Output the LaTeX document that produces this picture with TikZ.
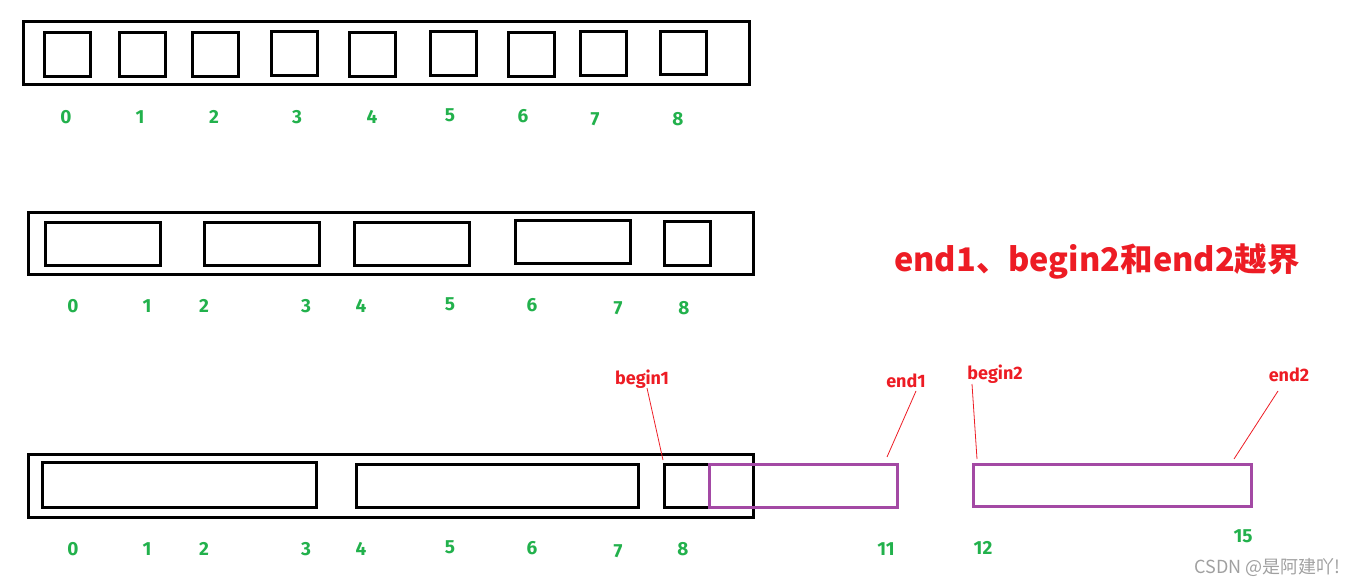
\documentclass[tikz,border=0pt]{standalone}
\usepackage{fontspec}
\setmainfont{Fira Sans}
\newfontfamily\cjk{Noto Sans CJK SC}
\definecolor{pgreen}{RGB}{34,177,76}
\definecolor{pred}{RGB}{237,28,36}
\definecolor{ppurple}{RGB}{163,73,164}
\definecolor{wmgray}{RGB}{160,160,160}
\newcommand{\bx}[6][arr]{\node[#1, minimum width={(#5-#3)*1pt}, minimum height={(#6-#4)*1pt}] (#2) at ({(#3+#5)/2},{(#4+#6)/2}) {};}
\tikzset{
  arr/.style={draw=black, line width=3pt, inner sep=0pt, outer sep=0pt, rectangle},
  over/.style={draw=ppurple, line width=3pt, inner sep=0pt, outer sep=0pt, rectangle},
  idx/.style={text=pgreen, font=\fontsize{19}{19}\selectfont\bfseries, inner sep=0pt},
  ptr/.style={text=pred, font=\fontsize{18}{18}\selectfont\bfseries, inner sep=0pt},
  lead/.style={draw=pred, line width=0.8pt},
}
\begin{document}
\begin{tikzpicture}[x=1pt,y=-1pt]
\useasboundingbox (0,0) rectangle (1355,586);
% ---------- row 1 ----------
\bx{r1}{23}{22}{749}{85}
\bx{r1b0}{44}{33}{90}{77}
\bx{r1b1}{119}{33}{165}{77}
\bx{r1b2}{192}{33}{238}{77}
\bx{r1b3}{271}{32}{317}{76}
\bx{r1b4}{349}{33}{395}{77}
\bx{r1b5}{430}{32}{476}{76}
\bx{r1b6}{508}{33}{554}{77}
\bx{r1b7}{580}{32}{626}{76}
\bx{r1b8}{660}{32}{706}{75}
\node[idx] (r1l0) at (66,117) {0};
\node[idx] (r1l1) at (140,117) {1};
\node[idx] (r1l2) at (214,117) {2};
\node[idx] (r1l3) at (297,117) {3};
\node[idx] (r1l4) at (372,117) {4};
\node[idx] (r1l5) at (450,115) {5};
\node[idx] (r1l6) at (523,116) {6};
\node[idx] (r1l7) at (595,119) {7};
\node[idx] (r1l8) at (678,119) {8};
% ---------- row 2 ----------
\bx{r2}{28}{212}{753}{274}
\bx{r2b0}{45}{222}{160}{265}
\bx{r2b1}{204}{222}{319}{265}
\bx{r2b2}{354}{222}{469}{265}
\bx{r2b3}{515}{220}{630}{263}
\bx{r2b4}{664}{221}{710}{265}
\node[idx] (r2l0) at (73,306) {0};
\node[idx] (r2l1) at (147,306) {1};
\node[idx] (r2l2) at (204,306) {2};
\node[idx] (r2l3) at (306,306) {3};
\node[idx] (r2l4) at (361,306) {4};
\node[idx] (r2l5) at (450,304) {5};
\node[idx] (r2l6) at (532,305) {6};
\node[idx] (r2l7) at (618,308) {7};
\node[idx] (r2l8) at (684,308) {8};
% ---------- title ----------
\node[text=pred, font=\cjk\fontsize{32.5}{32.5}\selectfont\bfseries, inner sep=0pt] (title) at (1097,261) {end1、begin2和end2越界};
% ---------- row 3 ----------
\bx{r3}{28}{454}{753}{517}
\bx{r3b0}{42}{462}{316}{507}
\bx{r3b1}{356}{464}{638}{507}
\bx{r3b2}{664}{464}{709}{507}
\bx[over]{ov1}{709}{464}{897}{507}
\bx[over]{ov2}{973}{464}{1251}{506}
\node[idx] (r3l0) at (73,549) {0};
\node[idx] (r3l1) at (147,549) {1};
\node[idx] (r3l2) at (204,549) {2};
\node[idx] (r3l3) at (306,549) {3};
\node[idx] (r3l4) at (361,549) {4};
\node[idx] (r3l5) at (450,547) {5};
\node[idx] (r3l6) at (532,548) {6};
\node[idx] (r3l7) at (618,551) {7};
\node[idx] (r3l8) at (683,549) {8};
\node[idx] (r3l11) at (886,549) {11};
\node[idx] (r3l12) at (983,548) {12};
\node[idx] (r3l15) at (1243,536) {15};
% ---------- pointers ----------
\node[ptr] (b1) at (642,379) {begin1};
\node[ptr] (e1) at (906,381) {end1};
\node[ptr] (b2) at (995,374) {begin2};
\node[ptr] (e2) at (1289,375) {end2};
\coordinate (b1s) at (647,388);
\coordinate (b1t) at (663,460);
\coordinate (e1s) at (916,391);
\coordinate (e1t) at (887,457);
\coordinate (b2s) at (972,384);
\coordinate (b2t) at (977,459);
\coordinate (e2s) at (1278,391);
\coordinate (e2t) at (1234,459);
\draw[lead] (b1s) -- (b1t);
\draw[lead] (e1s) -- (e1t);
\draw[lead] (b2s) -- (b2t);
\draw[lead] (e2s) -- (e2t);
% ---------- watermark ----------
\node[text=wmgray, font=\cjk\fontsize{18}{18}\selectfont, inner sep=0pt, anchor=east] (wm) at (1341,567) {CSDN @是阿建吖!};
\end{tikzpicture}
\end{document}
